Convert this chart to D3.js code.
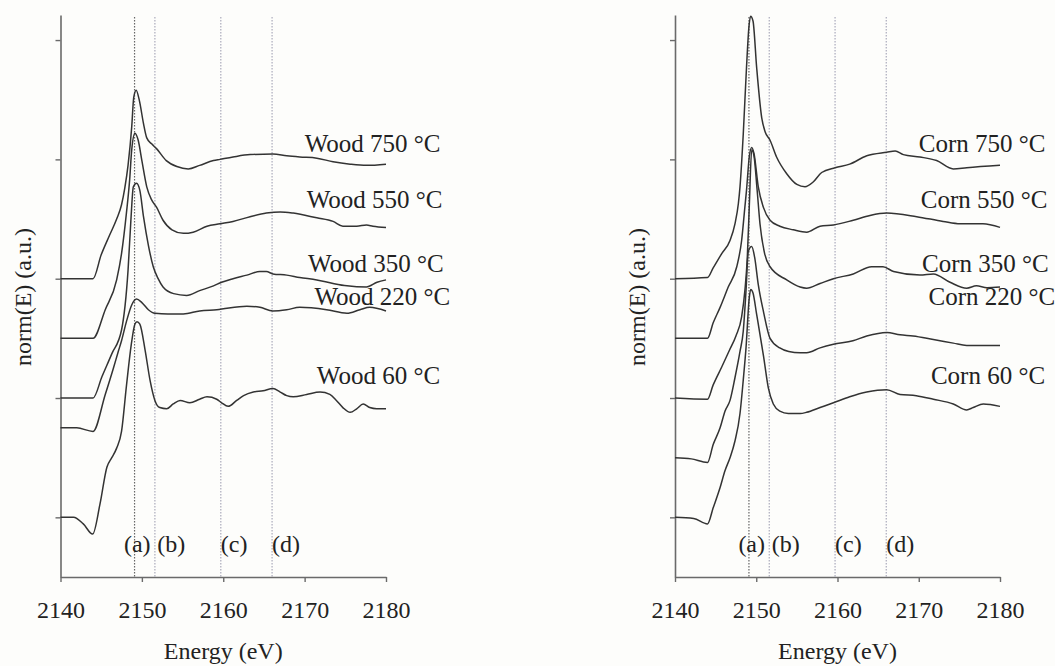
<!DOCTYPE html>
<html>
<head>
<meta charset="utf-8">
<script src="https://cdn.jsdelivr.net/npm/d3@7"></script>
<style>
  body { margin: 0; background: #fdfdfb; }
  svg { display: block; }
  text { font-family: 'Liberation Serif', 'Times New Roman', serif; fill: #222; }
</style>
</head>
<body>
<svg></svg>
<script>
const w = 1055;
const h = 666;

// tick values
const energyTicks = [2140, 2150, 2160, 2170, 2180];
const normTicks = [0.5, 1.5, 2.5, 3.5, 4.5];

// marked features (eV)
const featureNames = ['(a)', '(b)', '(c)', '(d)'];
const featureEnergies = [2149.1, 2151.6, 2159.7, 2166.0];

// series names and vertical offsets (stacked spectra)
const woodNames = ['Wood 750 °C', 'Wood 550 °C', 'Wood 350 °C', 'Wood 220 °C', 'Wood 60 °C'];
const woodOffsets = [2.5, 2.0, 1.5, 1.25, 0.5];
const cornNames = ['Corn 750 °C', 'Corn 550 °C', 'Corn 350 °C', 'Corn 220 °C', 'Corn 60 °C'];
const cornOffsets = [2.5, 2.0, 1.5, 1.0, 0.5];

// normalized spectra [energy, norm(E)]
const wood750 = [[2140,0],[2144,0],[2145,0.2],[2146,0.36],[2146.9,0.5],[2147.5,0.62],[2147.9,0.76],[2148.3,0.95],[2148.75,1.27],[2149.0,1.52],[2149.3,1.58],[2149.7,1.49],[2150.2,1.3],[2150.6,1.18],[2151.2,1.13],[2151.8,1.09],[2153.0,0.99],[2154.3,0.94],[2155.7,0.92],[2157.1,0.95],[2158.8,0.99],[2159.6,1.0],[2161.2,1.02],[2163.3,1.04],[2166.1,1.045],[2167.8,1.03],[2169.4,1.02],[2171.5,1.01],[2173.5,0.98],[2175.6,0.96],[2177.6,0.95],[2180,0.96]];
const wood550 = [[2140,0],[2144,0],[2145.5,0.24],[2146.9,0.49],[2147.5,0.71],[2148.1,1.05],[2148.5,1.33],[2148.75,1.58],[2149.15,1.72],[2149.55,1.66],[2150.0,1.49],[2150.6,1.27],[2151.2,1.16],[2151.8,1.1],[2152.6,0.99],[2153.7,0.91],[2155.1,0.88],[2156.3,0.89],[2158.0,0.94],[2159.6,0.96],[2161.2,0.98],[2163.3,1.02],[2165.3,1.05],[2167.0,1.06],[2168.6,1.05],[2171.5,1.01],[2173.5,0.98],[2174.7,0.94],[2176.4,0.94],[2177.6,0.95],[2178.4,0.94],[2180,0.93]];
const wood350 = [[2140,0],[2144,0],[2145.1,0.18],[2146.3,0.37],[2147.5,0.57],[2148.3,1.07],[2148.65,1.49],[2148.95,1.77],[2149.35,1.8],[2149.75,1.74],[2150.2,1.52],[2150.8,1.28],[2151.4,1.1],[2152.0,1.0],[2152.6,0.93],[2153.9,0.875],[2155.5,0.86],[2157.1,0.9],[2158.8,0.94],[2159.8,0.97],[2161.2,1.0],[2162.9,1.03],[2164.5,1.06],[2165.3,1.06],[2166.1,1.04],[2167.8,1.03],[2169.4,1.01],[2171.5,0.99],[2173.5,0.96],[2175.2,0.94],[2177.6,0.93],[2178.9,0.97],[2180,0.99]];
const wood220 = [[2140,0],[2142,0],[2144,-0.03],[2145.5,0.28],[2146.5,0.5],[2147.1,0.64],[2147.5,0.73],[2148.1,0.89],[2148.75,1.03],[2149.35,1.08],[2150.0,1.05],[2150.8,0.99],[2151.6,0.96],[2153.2,0.955],[2155.1,0.955],[2157.1,0.98],[2159.2,0.99],[2162.9,1.02],[2164.5,1.01],[2166.1,0.98],[2167.8,0.99],[2169.4,1.01],[2172.7,0.99],[2175.2,0.96],[2176.8,0.99],[2178.0,1.01],[2180,0.98]];
const wood60 = [[2140,0],[2141.6,0],[2142.8,-0.055],[2143.95,-0.14],[2144.85,0.11],[2145.7,0.42],[2146.3,0.5],[2146.9,0.58],[2147.5,0.72],[2148.1,1.1],[2148.7,1.45],[2149.15,1.62],[2149.4,1.64],[2149.75,1.62],[2150.4,1.4],[2151.0,1.15],[2151.6,0.98],[2152.2,0.92],[2153.05,0.91],[2153.85,0.95],[2154.7,0.98],[2155.9,0.96],[2157.1,0.99],[2158.0,1.01],[2159.2,0.99],[2159.8,0.96],[2160.6,0.93],[2161.65,0.98],[2162.5,1.02],[2163.7,1.05],[2164.9,1.06],[2166.1,1.08],[2167.0,1.05],[2167.8,1.02],[2168.6,1.01],[2170.25,1.03],[2171.9,1.05],[2173.1,1.03],[2173.9,0.98],[2174.7,0.92],[2175.6,0.88],[2176.4,0.91],[2177.2,0.95],[2178.0,0.92],[2178.85,0.91],[2180,0.91]];

const corn750 = [[2140,0],[2144,0.01],[2144.7,0.09],[2145.75,0.21],[2146.77,0.32],[2147.38,0.46],[2147.8,0.63],[2148.0,0.77],[2148.4,1.21],[2148.8,1.77],[2149.1,2.11],[2149.3,2.2],[2149.6,2.16],[2150.05,1.77],[2150.67,1.35],[2151.1,1.23],[2151.7,1.16],[2152.5,1.02],[2153.75,0.88],[2155.0,0.79],[2156.0,0.77],[2157.0,0.81],[2158.05,0.89],[2159.7,0.93],[2161.5,0.96],[2163.6,1.03],[2166.05,1.06],[2167.1,1.07],[2168.1,1.04],[2170.15,1.02],[2172.2,0.99],[2174.25,0.92],[2175.9,0.93],[2180,0.95]];
const corn550 = [[2140,0],[2144,0],[2144.7,0.13],[2145.55,0.26],[2146.55,0.43],[2147.6,0.6],[2148.2,0.82],[2148.6,1.1],[2148.8,1.24],[2149.14,1.52],[2149.44,1.6],[2149.72,1.55],[2150.25,1.27],[2150.87,1.1],[2151.7,0.99],[2152.9,0.94],[2154.56,0.91],[2156.2,0.89],[2157.85,0.94],[2159.5,0.95],[2161.94,0.99],[2164.0,1.03],[2166.06,1.05],[2169.75,1.02],[2173.0,0.98],[2175.1,0.96],[2177.9,0.96],[2180,0.93]];
const corn350 = [[2140,0],[2144,-0.01],[2144.7,0.11],[2145.75,0.26],[2146.7,0.4],[2147.5,0.52],[2148.2,0.68],[2148.6,0.9],[2148.9,1.18],[2149.14,1.6],[2149.44,2.08],[2149.72,2.03],[2150.1,1.75],[2150.46,1.46],[2151.0,1.22],[2151.7,1.1],[2153.75,0.99],[2155.4,0.93],[2156.2,0.92],[2157.85,0.96],[2159.5,1.0],[2161.94,1.04],[2164.2,1.1],[2165.6,1.1],[2166.9,1.06],[2170.15,1.03],[2171.8,1.04],[2173.85,0.97],[2175.9,0.92],[2177.1,0.94],[2178.4,0.925],[2180,0.93]];
const corn220 = [[2140,0],[2142,-0.01],[2144,-0.04],[2144.7,0.11],[2145.55,0.25],[2146.15,0.39],[2146.77,0.48],[2147.38,0.67],[2148.0,0.89],[2148.4,1.06],[2148.74,1.4],[2149.02,1.73],[2149.44,1.77],[2149.8,1.68],[2150.25,1.45],[2150.9,1.22],[2151.7,1.0],[2152.9,0.92],[2154.0,0.89],[2155.4,0.88],[2156.2,0.88],[2157.85,0.92],[2159.5,0.95],[2161.9,0.98],[2163.6,1.02],[2166.05,1.05],[2167.7,1.03],[2169.3,1.02],[2171.8,0.99],[2174.25,0.96],[2175.9,0.94],[2180,0.94]];
const corn60 = [[2140,0],[2142.3,-0.01],[2144,-0.055],[2144.7,0.08],[2145.55,0.25],[2146.15,0.39],[2146.77,0.5],[2147.38,0.64],[2148.0,0.87],[2148.4,1.15],[2148.74,1.42],[2149.14,1.84],[2149.32,1.91],[2149.6,1.88],[2150.05,1.7],[2150.9,1.35],[2151.5,1.08],[2152.1,0.95],[2152.9,0.89],[2153.95,0.87],[2155.4,0.87],[2156.2,0.88],[2157.85,0.92],[2159.5,0.96],[2161.5,1.01],[2163.6,1.05],[2166.05,1.07],[2167.7,1.03],[2169.7,1.02],[2171.8,0.99],[2174.25,0.95],[2175.9,0.9],[2176.7,0.92],[2177.95,0.95],[2178.8,0.945],[2180,0.93]];

const woodSeries = [wood750, wood550, wood350, wood220, wood60];
const cornSeries = [corn750, corn550, corn350, corn220, corn60];

// label anchors: [energy, stacked norm] for series names, same for both panels
const nameAnchors = [[2170.0, 3.565], [2170.25, 3.09], [2170.4, 2.56], [2171.2, 2.28], [2171.5, 1.62]];
const featureLabelX = [2147.8, 2151.9, 2159.7, 2166.0];

const svg = d3.select('svg').attr('width', w).attr('height', h);

const y = d3.scaleLinear().domain([0, 4.71]).range([577, 15]);

function panel(left, right, names, series, offsets, yLabelX) {
    const x = d3.scaleLinear().domain([2140, 2180]).range([left, right]);
    const g = svg.append('g');

    // dotted feature lines
    g.selectAll('line.feat')
        .data(featureEnergies)
        .enter()
        .append('line')
        .attr('x1', (d) => x(d))
        .attr('x2', (d) => x(d))
        .attr('y1', 17)
        .attr('y2', 577)
        .attr('stroke', (d, i) => (i === 0 ? '#666' : '#aab'))
        .attr('stroke-width', 1.2)
        .attr('stroke-dasharray', '1.5,1.5');

    g.selectAll('text.feat')
        .data(featureNames)
        .enter()
        .append('text')
        .attr('x', (d, i) => x(featureLabelX[i]))
        .attr('y', y(0.21))
        .attr('font-size', 24)
        .text((d) => d);

    // axes
    const xAxis = d3.axisBottom(x).tickValues(energyTicks).tickFormat(d3.format('d'))
        .tickSize(5).tickSizeOuter(0).tickPadding(19);
    const yAxis = d3.axisLeft(y).tickValues(normTicks).tickSize(5).tickSizeOuter(0).tickFormat('');

    const gx = g.append('g').attr('transform', 'translate(0,577)').call(xAxis);
    gx.selectAll('text').attr('font-size', 24).attr('font-family', "'Liberation Serif', serif").attr('fill', '#222');
    const gy = g.append('g').attr('transform', 'translate(' + left + ',0)').call(yAxis);
    [gx, gy].forEach((a) => {
        a.select('.domain').attr('stroke', '#6a6a6a').attr('stroke-width', 1.6);
        a.selectAll('.tick line').attr('stroke', '#6a6a6a').attr('stroke-width', 1.4);
    });

    // spectra
    const line = d3.line()
        .x((d) => x(d[0]))
        .y((d) => y(d[1]))
        .curve(d3.curveMonotoneX);

    g.selectAll('path.spec')
        .data(series)
        .enter()
        .append('path')
        .attr('fill', 'none')
        .attr('stroke', '#333')
        .attr('stroke-width', 1.5)
        .attr('d', (d, i) => line(d.map((p) => [p[0], p[1] + offsets[i]])));

    g.selectAll('text.name')
        .data(names)
        .enter()
        .append('text')
        .attr('x', (d, i) => x(nameAnchors[i][0]))
        .attr('y', (d, i) => y(nameAnchors[i][1]))
        .attr('font-size', 25)
        .text((d) => d);

    g.append('text')
        .attr('text-anchor', 'middle')
        .attr('x', (left + right) / 2)
        .attr('y', 659)
        .attr('font-size', 24)
        .text('Energy (eV)');

    g.append('text')
        .attr('text-anchor', 'middle')
        .attr('transform', 'translate(' + yLabelX + ',297) rotate(-90)')
        .attr('dy', '0.35em')
        .attr('font-size', 24)
        .text('norm(E) (a.u.)');
}

panel(60.5, 386, woodNames, woodSeries, woodOffsets, 23);
panel(675, 1000, cornNames, cornSeries, cornOffsets, 637);
</script>
</body>
</html>
